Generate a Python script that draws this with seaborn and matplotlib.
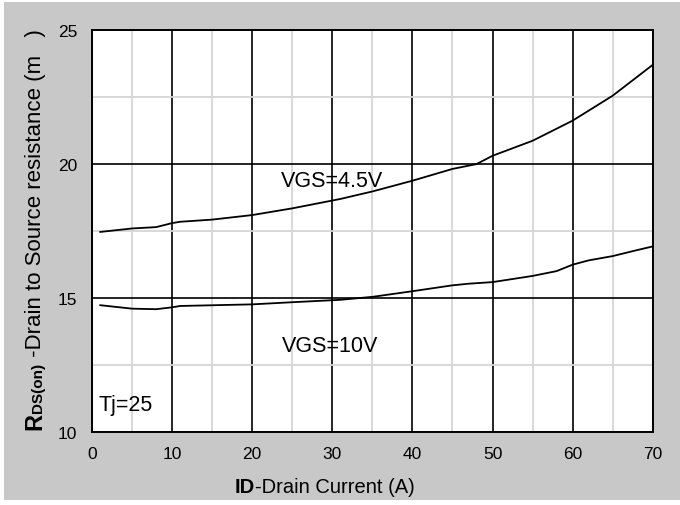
import matplotlib
matplotlib.use("Agg")
import matplotlib.pyplot as plt
from matplotlib.patches import Rectangle
import seaborn as sns
import pandas as pd

# ---- data ----
current_45 = [1, 5, 8, 10, 11, 15, 20, 25, 31, 35, 40, 45, 48, 50, 55, 60, 65, 70]
rds_45 = [17.47, 17.60, 17.65, 17.80, 17.85, 17.93, 18.10, 18.35, 18.70, 18.98,
          19.38, 19.82, 20.00, 20.31, 20.87, 21.62, 22.55, 23.70]

current_10 = [1, 5, 8, 10, 11, 20, 25, 31, 35, 40, 45, 47, 50, 55, 58, 60, 62, 65, 68, 70]
rds_10 = [14.74, 14.61, 14.59, 14.66, 14.71, 14.77, 14.85, 14.94, 15.05, 15.26,
          15.48, 15.54, 15.60, 15.83, 16.01, 16.25, 16.41, 16.57, 16.79, 16.93]

series_names = ["VGS=4.5V", "VGS=10V"]
x_ticks = [0, 10, 20, 30, 40, 50, 60, 70]
x_minor = [5, 15, 25, 35, 45, 55, 65]
y_ticks = [10, 15, 20, 25]
y_minor = [12.5, 17.5, 22.5]

df = pd.concat([
    pd.DataFrame({"ID": current_45, "RDS": rds_45, "series": series_names[0]}),
    pd.DataFrame({"ID": current_10, "RDS": rds_10, "series": series_names[1]}),
])

sns.set_theme(style="white")
plt.rcParams["font.family"] = ["Liberation Sans", "DejaVu Sans"]

W, H = 680, 506
fig = plt.figure(figsize=(W / 100, H / 100), dpi=100, facecolor="white")
fig.patches.append(Rectangle((3.5 / W, 5 / H), 1 - 3.5 / W, (501 - 3) / H,
                             transform=fig.transFigure, facecolor="#c8c8c8",
                             edgecolor="none", zorder=-10))

ax = fig.add_axes([92 / W, (H - 433.3) / H, (652.7 - 92) / W, (433.3 - 31) / H])
ax.set_zorder(1)
ax.set_facecolor("white")

sns.lineplot(data=df, x="ID", y="RDS", hue="series", palette=["black", "black"],
             linewidth=1.3, legend=False, ax=ax, sort=False)

ax.set_xlim(0, 70)
ax.set_ylim(10, 25)
ax.set_xticks(x_ticks)
ax.set_xticks(x_minor, minor=True)
ax.set_yticks(y_ticks)
ax.set_yticks(y_minor, minor=True)
ax.set_axisbelow(True)
ax.grid(which="minor", color="#d6d6d6", linewidth=1.3)
ax.grid(which="major", color="black", linewidth=1.2)
ax.tick_params(which="both", length=0)
ax.tick_params(axis="x", labelsize=12.5, pad=10, colors="black")
ax.tick_params(axis="y", labelsize=12.5, pad=10.5, colors="black")
for s in ax.spines.values():
    s.set_visible(True)
    s.set_color("black")
    s.set_linewidth(1.4)
ax.set_xlabel("")
ax.set_ylabel("")

ax.text(23.6, 19.18, series_names[0], fontsize=15.5, color="black", va="baseline", ha="left")
ax.text(23.7, 13.02, series_names[1], fontsize=15.5, color="black", va="baseline", ha="left")
ax.text(0.75, 10.82, "Tj=25", fontsize=15.5, color="black", va="baseline", ha="left")

renderer = fig.canvas.get_renderer()

# y label: R (bold) + DS(on) (bold, small) + rest
ypos = H - 430
for txt, kw in [("R", dict(fontsize=17, fontweight="bold")),
                ("DS(on)", dict(fontsize=11, fontweight="bold")),
                (" -Drain to Source resistance (m   )", dict(fontsize=16))]:
    t = fig.text(41.5 / W, ypos / H, txt, rotation=90, rotation_mode="anchor",
                 ha="left", va="baseline", color="black", **kw)
    ypos += t.get_window_extent(renderer).height

# x label: ID (bold) + rest
xpos = 235
for txt, kw in [("ID", dict(fontsize=14.5, fontweight="bold")),
                ("-Drain Current (A)", dict(fontsize=14.5))]:
    t = fig.text(xpos / W, (H - 493) / H, txt, ha="left", va="baseline",
                 color="black", **kw)
    xpos += t.get_window_extent(renderer).width

fig.savefig("out.png", dpi=100)
